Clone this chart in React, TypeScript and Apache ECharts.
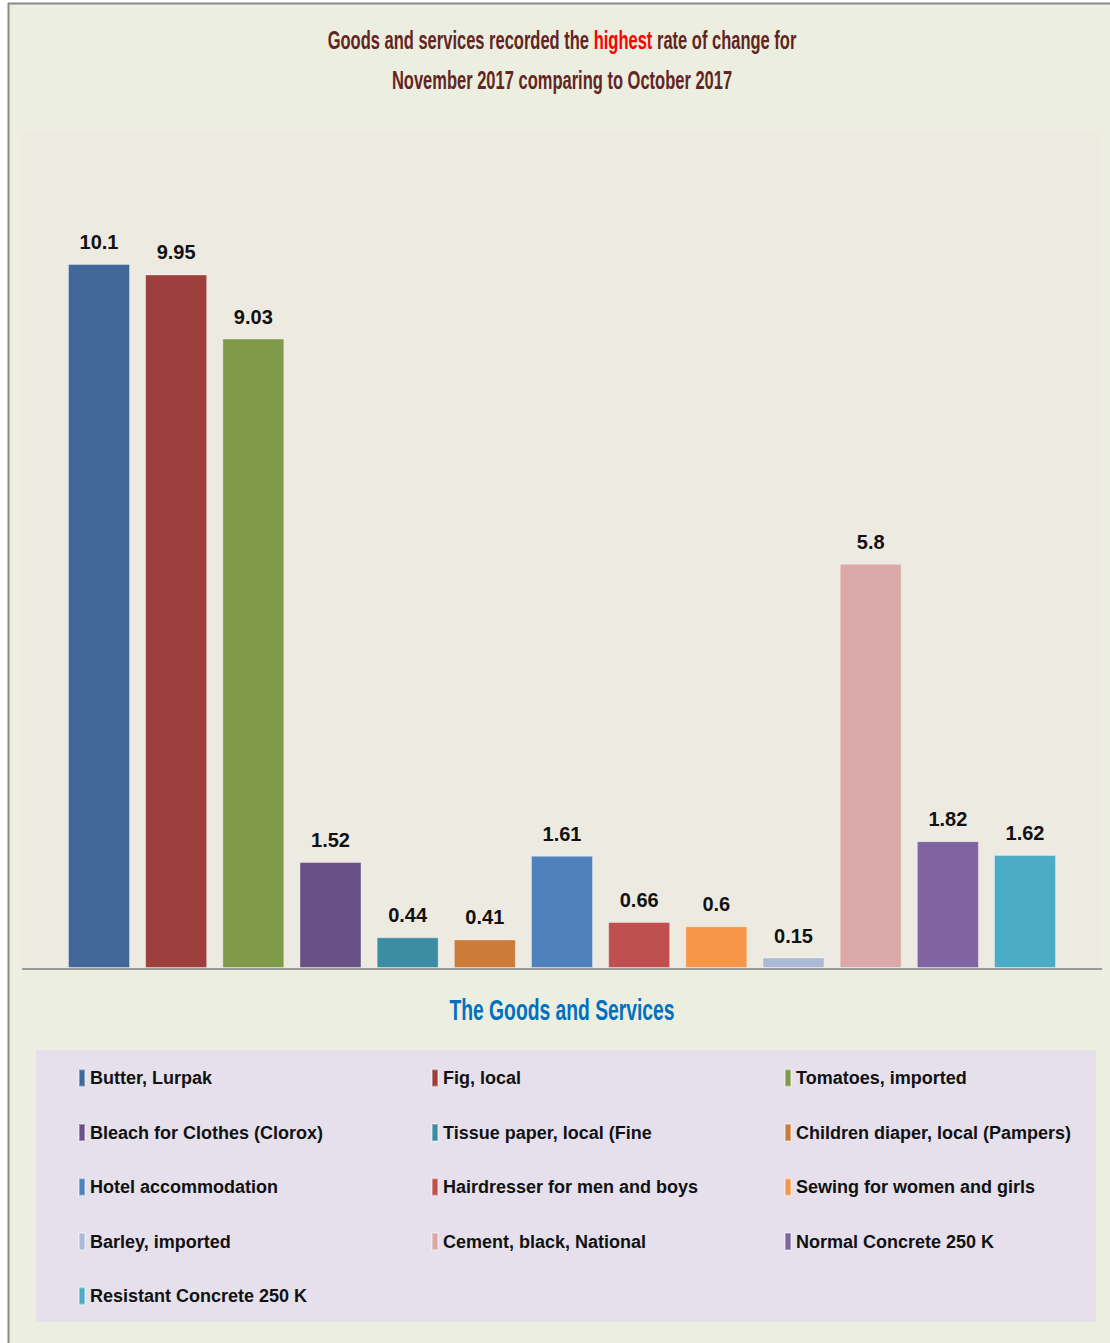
import React, { useEffect, useRef } from "react";
import * as echarts from "echarts";

const categories = [
  "Butter, Lurpak",
  "Fig, local",
  "Tomatoes, imported",
  "Bleach for Clothes (Clorox)",
  "Tissue paper, local (Fine",
  "Children diaper, local (Pampers)",
  "Hotel accommodation",
  "Hairdresser for men and boys",
  "Sewing for women and girls",
  "Barley, imported",
  "Cement, black, National",
  "Normal Concrete 250 K",
  "Resistant Concrete 250 K",
];

const values = [10.1, 9.95, 9.03, 1.52, 0.44, 0.41, 1.61, 0.66, 0.6, 0.15, 5.8, 1.82, 1.62];

const colors = [
  "#416898",
  "#9C3F3D",
  "#7F9A48",
  "#695185",
  "#3C8DA3",
  "#CC7B38",
  "#4F81BD",
  "#C0504D",
  "#F79646",
  "#AABAD7",
  "#DBA9A9",
  "#8064A2",
  "#4BACC6",
];

const titleLine1 = ["Goods and services recorded the ", "highest", " rate of change for"];
const titleLine2 = "November 2017 comparing to October 2017";
const axisTitle = "The Goods and Services";

const legendColumns = [
  [0, 3, 6, 9, 12],
  [1, 4, 7, 10],
  [2, 5, 8, 11],
];
const legendLefts = [78, 431, 784];

const FONT = "'Liberation Sans', Arial, sans-serif";

function measure(text: string, font: string): number {
  const c = document.createElement("canvas").getContext("2d");
  if (!c) return text.length * 10;
  c.font = font;
  return c.measureText(text).width;
}

export default function App() {
  const ref = useRef<HTMLDivElement>(null);

  useEffect(() => {
    if (!ref.current) return;
    const chart = echarts.init(ref.current, null, { renderer: "svg" });

    const titleSize = 26;
    const titleFont = `bold ${titleSize}px ${FONT}`;
    const titleScale = 469 / measure(titleLine1.join(""), titleFont);

    const axisSize = 30;
    const axisFont = `bold ${axisSize}px ${FONT}`;
    const axisScale = 225 / measure(axisTitle, axisFont);

    const series = categories.map((name, i) => ({
      name,
      type: "bar",
      stack: "all",
      barWidth: 62,
      itemStyle: { color: colors[i], borderColor: "rgba(255,255,255,0.35)", borderWidth: 1 },
      label: {
        show: true,
        position: "top",
        distance: 12,
        fontFamily: FONT,
        fontSize: 20,
        fontWeight: "bold",
        color: "#111",
      },
      data: values.map((v, j) => (j === i ? v : "-")),
    }));

    const legends = legendColumns.map((col, k) => ({
      orient: "vertical",
      left: legendLefts[k],
      top: 1066,
      padding: 0,
      icon: "rect",
      itemWidth: 6,
      itemHeight: 17,
      itemGap: 30.5,
      itemTextGap: 6,
      selectedMode: false,
      textStyle: { fontFamily: FONT, fontSize: 18, fontWeight: "bold", color: "#111", lineHeight: 24 },
      data: col.map((i) => categories[i]),
    }));

    const richTitle = {
      a: { fontFamily: FONT, fontSize: titleSize, fontWeight: "bold", fill: "#632523", lineHeight: 40 },
      b: { fontFamily: FONT, fontSize: titleSize, fontWeight: "bold", fill: "#FF0000", lineHeight: 40 },
    };

    chart.setOption({
      animation: false,
      backgroundColor: "#ffffff",
      color: colors,
      graphic: [
        { type: "rect", z: -10, shape: { x: 8, y: 3, width: 1102, height: 1340 }, style: { fill: "#ECEFDF" } },
        { type: "line", z: -9, shape: { x1: 8.5, y1: 3, x2: 8.5, y2: 1343 }, style: { stroke: "#8a8a8a", lineWidth: 2 } },
        { type: "line", z: -9, shape: { x1: 8, y1: 3.5, x2: 1110, y2: 3.5 }, style: { stroke: "#8a8a8a", lineWidth: 2 } },
        { type: "rect", z: -8, shape: { x: 22, y: 130, width: 1080, height: 838 }, style: { fill: "#EDEAE2" } },
        { type: "rect", z: -8, shape: { x: 36, y: 1050, width: 1060, height: 272 }, style: { fill: "#E5E0EC" } },
        { type: "line", z: 10, shape: { x1: 22, y1: 969, x2: 1102, y2: 969 }, style: { stroke: "#9a9a9a", lineWidth: 2 } },
        {
          type: "text",
          x: 562,
          y: 40,
          scaleX: titleScale,
          style: {
            text: `{a|${titleLine1[0]}}{b|${titleLine1[1]}}{a|${titleLine1[2]}}`,
            rich: richTitle,
            align: "center",
            verticalAlign: "middle",
          },
        },
        {
          type: "text",
          x: 562,
          y: 80,
          scaleX: titleScale,
          style: {
            text: titleLine2,
            font: titleFont,
            fill: "#632523",
            align: "center",
            verticalAlign: "middle",
          },
        },
        {
          type: "text",
          x: 562,
          y: 1009,
          scaleX: axisScale,
          style: {
            text: axisTitle,
            font: axisFont,
            fill: "#0070C0",
            align: "center",
            verticalAlign: "middle",
          },
        },
      ],
      grid: { left: 60.4, right: 46.4, top: 131.6, bottom: 375 },
      xAxis: {
        type: "category",
        data: categories,
        axisLine: { show: false },
        axisTick: { show: false },
        axisLabel: { show: false },
      },
      yAxis: {
        type: "value",
        min: 0,
        max: 12,
        show: false,
        splitLine: { show: false },
      },
      legend: legends,
      series,
    });

    return () => chart.dispose();
  }, []);

  return (
    <div
      ref={ref}
      style={{ position: "absolute", left: 0, top: 0, width: 1110, height: 1343 }}
    />
  );
}
